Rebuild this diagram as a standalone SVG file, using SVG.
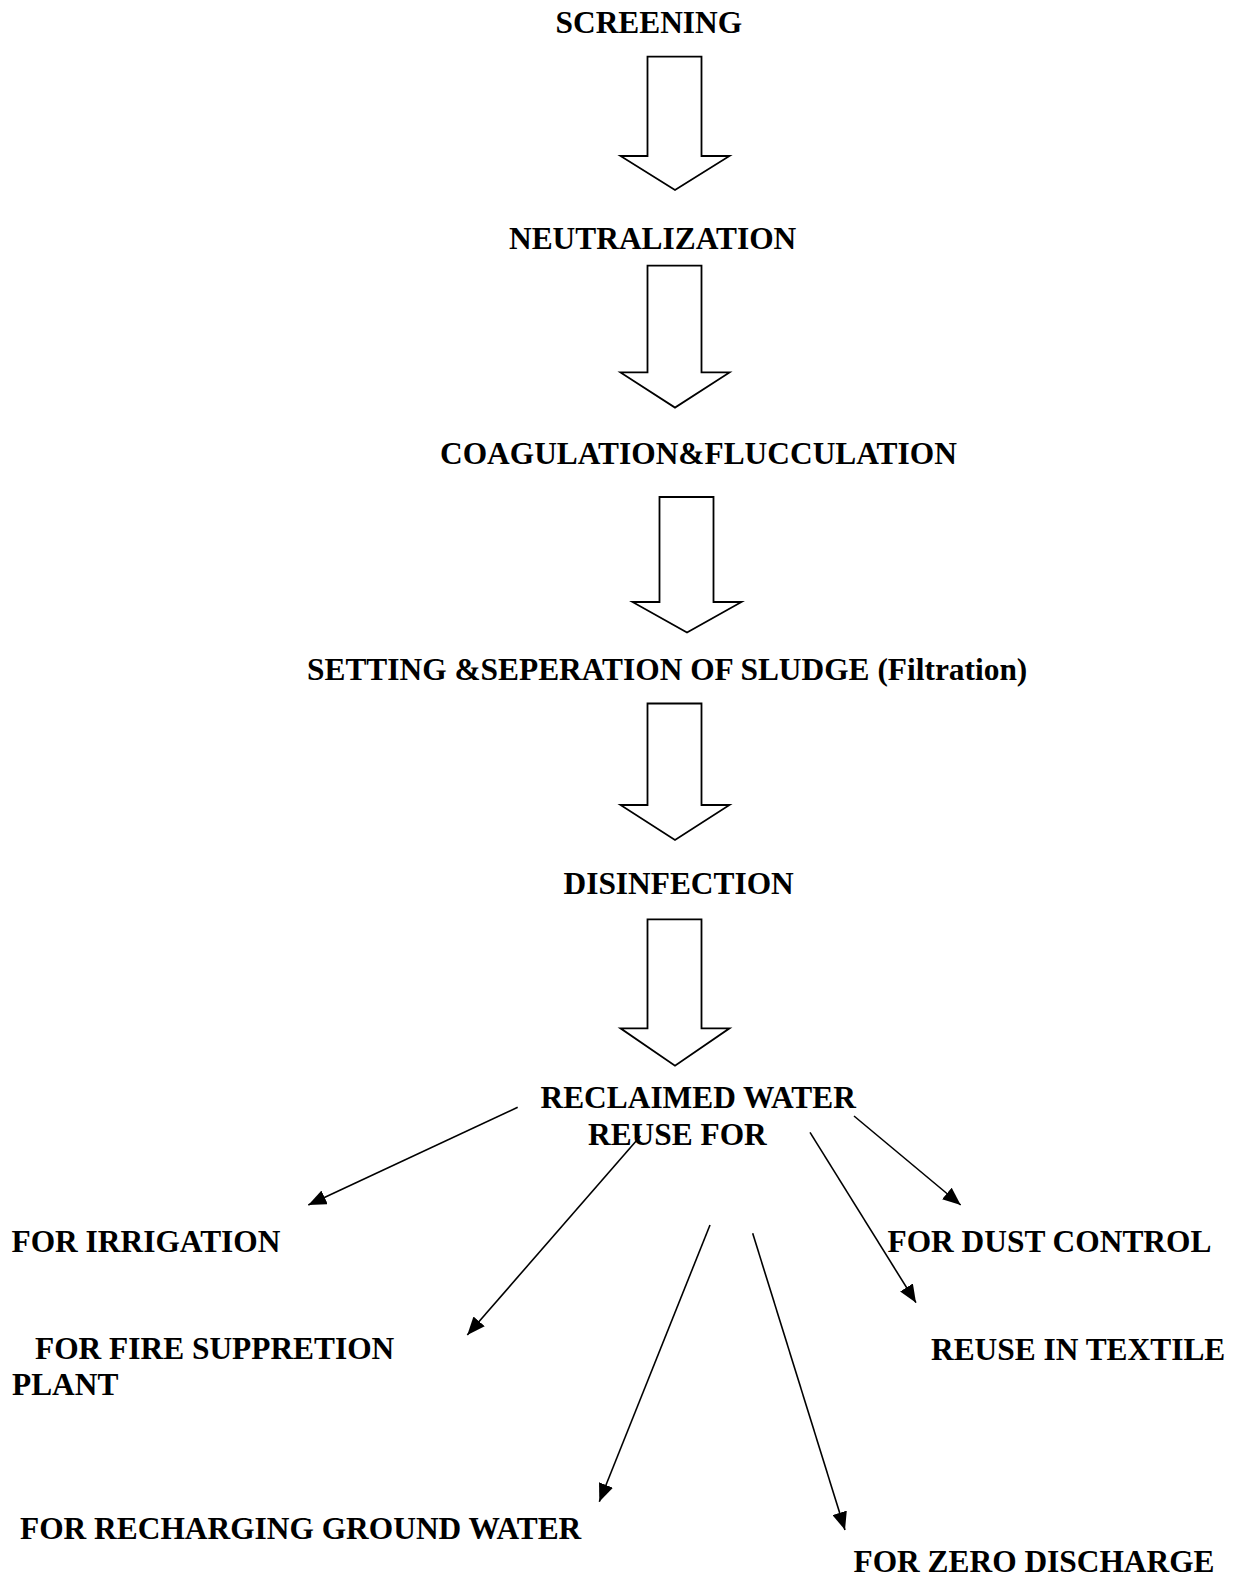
<svg xmlns="http://www.w3.org/2000/svg" width="1238" height="1578" viewBox="0 0 1238 1578">
<style>
text{font-family:"Liberation Serif","Times New Roman",serif;font-weight:bold;font-size:31.4px;fill:#000}
.blk{fill:#fff;stroke:#000;stroke-width:1.8;stroke-linejoin:miter}
.con{stroke:#000;stroke-width:1.6;fill:none;marker-end:url(#ah)}
</style>
<defs>
<marker id="ah" markerUnits="userSpaceOnUse" markerWidth="19" markerHeight="15" refX="18" refY="7.5" orient="auto">
<path d="M0,0 L18,7.5 L0,15 z" fill="#000"/>
</marker>
</defs>
<rect width="1238" height="1578" fill="#fff"/>
<g id="n-screening"><text x="555.5" y="33">SCREENING</text></g>
<g id="n-neutralization"><text x="509" y="248.5">NEUTRALIZATION</text></g>
<g id="n-coagulation"><text x="440" y="464">COAGULATION&amp;FLUCCULATION</text></g>
<g id="n-setting"><text x="307" y="679.5">SETTING &amp;SEPERATION OF SLUDGE (Filtration)</text></g>
<g id="n-disinfection"><text x="563.5" y="894">DISINFECTION</text></g>
<g id="n-reclaimed"><text x="540.5" y="1108">RECLAIMED WATER</text><text x="588" y="1144.5">REUSE FOR</text></g>
<g id="n-irrigation"><text x="11.5" y="1252">FOR IRRIGATION</text></g>
<g id="n-dust"><text x="887.5" y="1252">FOR DUST CONTROL</text></g>
<g id="n-fire"><text x="35" y="1359">FOR FIRE SUPPRETION</text><text x="12" y="1395">PLANT</text></g>
<g id="n-textile"><text x="931" y="1359.5">REUSE IN TEXTILE</text></g>
<g id="n-recharge"><text x="20" y="1539">FOR RECHARGING GROUND WATER</text></g>
<g id="n-zero"><text x="853.5" y="1572">FOR ZERO DISCHARGE</text></g>
<g id="connectors">
<path class="blk" d="M647.5,56.7 H701.5 V156 H729.5 L675,190 L620.5,156 H647.5 Z"/>
<path class="blk" d="M647.5,265.7 H701.5 V372.4 H729.5 L675,407.6 L620.5,372.4 H647.5 Z"/>
<path class="blk" d="M659.5,497 H713.5 V602 H741.5 L687,632.5 L632.5,602 H659.5 Z"/>
<path class="blk" d="M647.5,703.5 H701.5 V805 H729.5 L675,840 L620.5,805 H647.5 Z"/>
<path class="blk" d="M647.5,919.3 H701.5 V1028.3 H729.5 L675,1065.7 L620.5,1028.3 H647.5 Z"/>
<line class="con" x1="517.7" y1="1107.3" x2="308.3" y2="1205"/>
<line class="con" x1="640.5" y1="1136" x2="467.3" y2="1335"/>
<line class="con" x1="710" y1="1225" x2="599.3" y2="1501.7"/>
<line class="con" x1="752.7" y1="1233.3" x2="845" y2="1530"/>
<line class="con" x1="810" y1="1132.3" x2="916" y2="1302.7"/>
<line class="con" x1="854" y1="1116" x2="960.7" y2="1205"/>
</g>
</svg>
